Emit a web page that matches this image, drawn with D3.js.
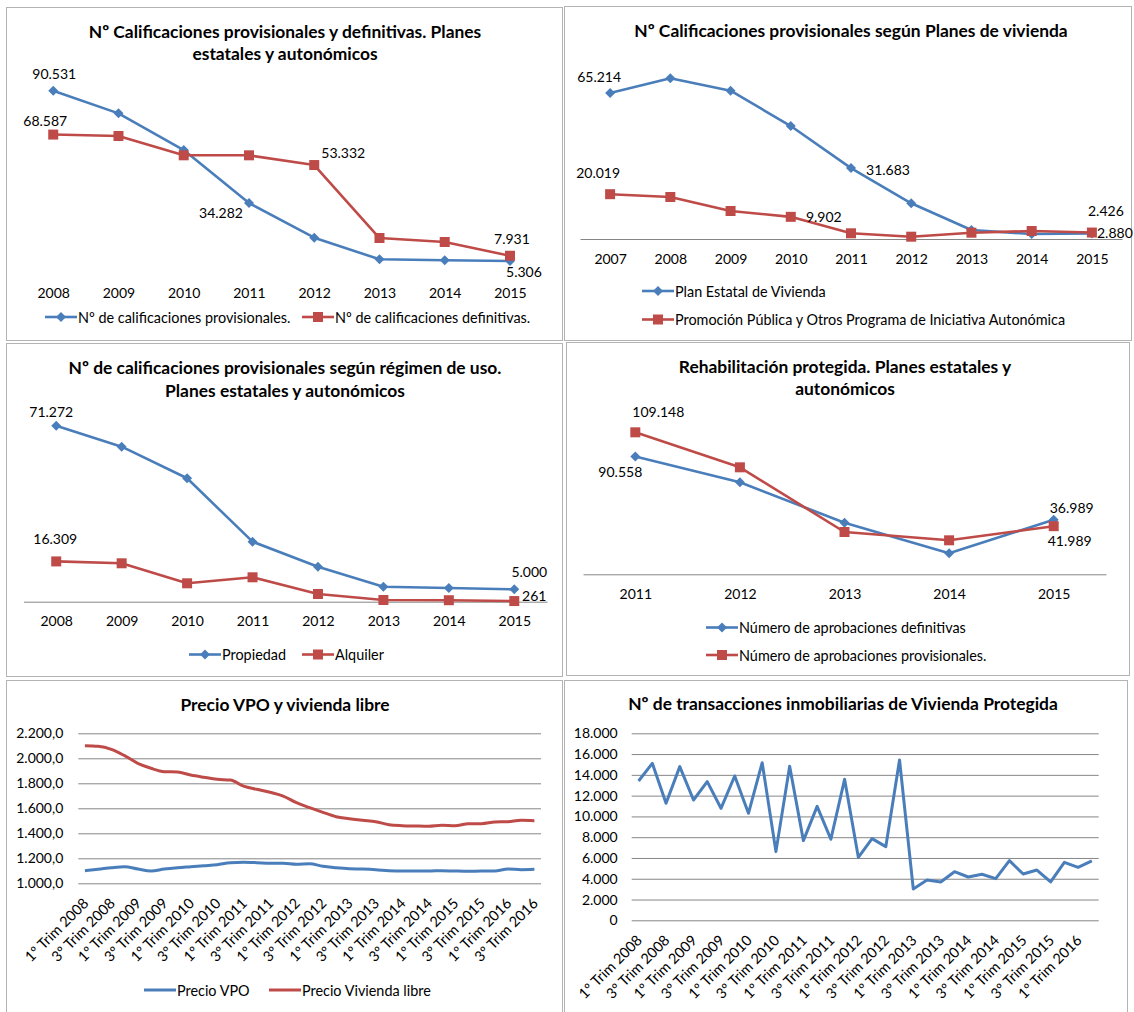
<!DOCTYPE html>
<html>
<head>
<meta charset="utf-8">
<script src="https://cdn.jsdelivr.net/npm/d3@7/dist/d3.min.js"></script>
<style>
  body { margin: 0; background: #fff; }
  svg { display: block; font-family: Lato, 'Open Sans', sans-serif; }
</style>
</head>
<body>
<div id="chart"></div>
<script>
// ---- data ----
var years1 = ['2008', '2009', '2010', '2011', '2012', '2013', '2014', '2015']
var calProvisionales = [90531, 79200, 60850, 34282, 16960, 6155, 5655, 5306]
var calDefinitivas = [68587, 67860, 58200, 58200, 53332, 16810, 14810, 7931]

var years2 = ['2007', '2008', '2009', '2010', '2011', '2012', '2013', '2014', '2015']
var planEstatal = [65214, 71780, 66240, 50470, 31683, 15950, 4020, 2230, 2426]
var promocionPublica = [20019, 18760, 12500, 9902, 2550, 1030, 2810, 3570, 2880]

var years3 = ['2008', '2009', '2010', '2011', '2012', '2013', '2014', '2015']
var propiedad = [71272, 62770, 49970, 24300, 14170, 6070, 5550, 5000]
var alquiler = [16309, 15550, 7450, 9880, 3120, 690, 600, 261]

var years4 = ['2011', '2012', '2013', '2014', '2015']
var aprobDefinitivas = [90558, 70710, 39660, 16140, 41989]
var aprobProvisionales = [109148, 82240, 32510, 26130, 36989]

var trimestres = [
  '1º Trim 2008', '2º Trim 2008', '3º Trim 2008', '4º Trim 2008',
  '1º Trim 2009', '2º Trim 2009', '3º Trim 2009', '4º Trim 2009',
  '1º Trim 2010', '2º Trim 2010', '3º Trim 2010', '4º Trim 2010',
  '1º Trim 2011', '2º Trim 2011', '3º Trim 2011', '4º Trim 2011',
  '1º Trim 2012', '2º Trim 2012', '3º Trim 2012', '4º Trim 2012',
  '1º Trim 2013', '2º Trim 2013', '3º Trim 2013', '4º Trim 2013',
  '1º Trim 2014', '2º Trim 2014', '3º Trim 2014', '4º Trim 2014',
  '1º Trim 2015', '2º Trim 2015', '3º Trim 2015', '4º Trim 2015',
  '1º Trim 2016', '2º Trim 2016', '3º Trim 2016'
]
var precioVPO = [1101, 1112, 1125, 1133, 1114, 1098, 1114, 1125, 1133, 1141, 1149, 1165, 1168, 1165, 1160, 1160, 1152, 1157,
  1136, 1125, 1117, 1114, 1109, 1101, 1098, 1098, 1098, 1101, 1098, 1096, 1098, 1098, 1114, 1109, 1112]
var precioLibre = [2101, 2096, 2072, 2021, 1960, 1920, 1893, 1890, 1866, 1848, 1832, 1826, 1778, 1752, 1728, 1698, 1645, 1605,
  1568, 1533, 1517, 1504, 1493, 1469, 1461, 1458, 1456, 1464, 1461, 1477, 1477, 1490, 1493, 1504, 1501]
var transacciones = [13410, 15110, 11260, 14790, 11580, 13350, 10780, 13890, 10300, 15170, 6610, 14820, 7670, 10970, 7800, 13570, 6060,
  7860, 7090, 15430, 3020, 3880, 3690, 4680, 4170, 4430, 4010, 5740, 4460, 4840, 3690, 5580, 5100, 5710]

var ticks5 = [1000, 1200, 1400, 1600, 1800, 2000, 2200]
var ticks6 = [0, 2000, 4000, 6000, 8000, 10000, 12000, 14000, 16000, 18000]

// ---- setup ----
var BLUE = '#4a7ebb'
var RED = '#be4b48'
var AXIS = '#868686'

var locale = d3.formatLocale({ decimal: ',', thousands: '.', grouping: [3], currency: ['', ''] })
var fmtInt = locale.format(',d')
var fmtDec = locale.format(',.1f')

var svg = d3.select('#chart')
  .append('svg')
  .attr('width', 1134)
  .attr('height', 1012)

var diamond = d3.symbol().type(d3.symbolSquare).size(50)
var square = d3.symbol().type(d3.symbolSquare).size(100)

function panel (box, title, titleX, titleY) {
  var g = svg.append('g')
  g.append('rect')
    .attr('x', box[0] + 0.5)
    .attr('y', box[1] + 0.5)
    .attr('width', box[2])
    .attr('height', box[3])
    .attr('fill', '#fff')
    .attr('stroke', '#b3b3b3')
  title.forEach(function (t, i) {
    g.append('text')
      .attr('x', titleX)
      .attr('y', titleY + i * 22.5)
      .attr('text-anchor', 'middle')
      .attr('dominant-baseline', 'central')
      .attr('font-size', '17.4px')
      .attr('font-weight', 'bold')
      .attr('fill', '#000')
      .text(t)
  })
  return g
}

function categoryChart (cfg) {
  var g = panel(cfg.box, cfg.title, cfg.titleX, cfg.titleY)

  var x = d3.scalePoint().domain(cfg.cats).range(cfg.xRange).padding(0.5)
  var y = d3.scaleLinear().domain(cfg.yDomain).range(cfg.yRange)

  var axis = g.append('g')
    .attr('transform', 'translate(0,' + y(0) + ')')
    .call(d3.axisBottom(x).tickSize(0).tickPadding(cfg.tickPad))
  axis.select('.domain').attr('stroke', cfg.showDomain ? AXIS : 'none').attr('stroke-width', 1)
  axis.selectAll('text')
    .attr('font-size', '14px')
    .attr('font-family', 'Lato, sans-serif')
    .attr('fill', '#000')

  cfg.series.forEach(function (s) {
    var line = d3.line()
      .x(function (d, i) { return x(cfg.cats[i]) })
      .y(function (d) { return y(d) })
    g.append('path')
      .datum(s.values)
      .attr('d', line)
      .attr('fill', 'none')
      .attr('stroke', s.color)
      .attr('stroke-width', 2.6)
      .attr('stroke-linejoin', 'round')

    g.selectAll(null)
      .data(s.values)
      .enter()
      .append('path')
      .attr('d', s.marker === 'diamond' ? diamond : square)
      .attr('fill', s.color)
      .attr('transform', function (d, i) {
        return 'translate(' + x(cfg.cats[i]) + ',' + y(d) + ')' + (s.marker === 'diamond' ? ' rotate(45)' : '')
      })

    s.labels.forEach(function (l) {
      var v = s.values[l[0]]
      g.append('text')
        .attr('x', x(cfg.cats[l[0]]) + l[1])
        .attr('y', y(v) + l[2])
        .attr('text-anchor', 'middle')
        .attr('dominant-baseline', 'central')
        .attr('font-size', '14px')
        .attr('fill', '#000')
        .text(fmtInt(v))
    })

    var lg = g.append('g').attr('transform', 'translate(' + s.legend[0] + ',' + s.legend[1] + ')')
    lg.append('line').attr('x1', 0).attr('x2', 32).attr('stroke', s.color).attr('stroke-width', 2.6)
    lg.append('path')
      .attr('d', s.marker === 'diamond' ? diamond : square)
      .attr('fill', s.color)
      .attr('transform', 'translate(16,0)' + (s.marker === 'diamond' ? ' rotate(45)' : ''))
    lg.append('text')
      .attr('x', 33)
      .attr('dominant-baseline', 'central')
      .attr('font-size', '14.4px')
      .attr('fill', '#000')
      .text(s.name)
  })
}

// Panel 1
categoryChart({
  box: [6, 7, 556, 333],
  title: ['Nº  Calificaciones provisionales y definitivas. Planes', 'estatales y autonómicos'],
  titleX: 285, titleY: 31,
  cats: years1,
  xRange: [20.6, 542.6],
  yDomain: [0, 100000], yRange: [271.6, 71.8],
  tickPad: 16, showDomain: false,
  series: [
    { name: 'Nº de calificaciones provisionales.', values: calProvisionales, color: BLUE, marker: 'diamond',
      labels: [[0, 1, -17], [3, -28, 9], [7, 14, 11]], legend: [45, 317] },
    { name: 'Nº de calificaciones definitivas.', values: calDefinitivas, color: RED, marker: 'square',
      labels: [[0, -8, -14.5], [4, 29, -13], [7, 2, -17]], legend: [302, 317] }
  ]
})

// Panel 2
categoryChart({
  box: [564, 6, 567, 334],
  title: ['Nº Calificaciones provisionales  según Planes de vivienda'],
  titleX: 851, titleY: 30,
  cats: years2,
  xRange: [580, 1122],
  yDomain: [0, 70000], yRange: [239, 82.3],
  tickPad: 15.5, showDomain: true,
  series: [
    { name: 'Plan Estatal de Vivienda', values: planEstatal, color: BLUE, marker: 'diamond',
      labels: [[0, -11, -17], [4, 37, 1], [8, 14, -23]], legend: [642, 291] },
    { name: 'Promoción Pública y Otros Programa de Iniciativa Autonómica', values: promocionPublica, color: RED, marker: 'square',
      labels: [[0, -12, -22], [3, 33, 0], [8, 23, 0]], legend: [642, 319.5] }
  ]
})

// Panel 3
categoryChart({
  box: [6, 343, 556, 333],
  title: ['Nº de calificaciones provisionales según régimen de uso.', 'Planes estatales y autonómicos'],
  titleX: 285, titleY: 367.5,
  cats: years3,
  xRange: [23.5, 547],
  yDomain: [0, 80000], yRange: [601.7, 404.1],
  tickPad: 14.5, showDomain: true,
  series: [
    { name: 'Propiedad', values: propiedad, color: BLUE, marker: 'diamond',
      labels: [[0, -5, -14], [7, 15, -18]], legend: [189, 654.5] },
    { name: 'Alquiler', values: alquiler, color: RED, marker: 'square',
      labels: [[0, -1, -23], [7, 20, -6]], legend: [302, 654.5] }
  ]
})

// Panel 4
categoryChart({
  box: [566, 342, 563, 333],
  title: ['Rehabilitación protegida. Planes estatales y', 'autonómicos'],
  titleX: 845, titleY: 366,
  cats: years4,
  xRange: [583, 1106],
  yDomain: [0, 120000], yRange: [574.3, 418.2],
  tickPad: 15, showDomain: true,
  series: [
    { name: 'Número de aprobaciones definitivas', values: aprobDefinitivas, color: BLUE, marker: 'diamond',
      labels: [[0, -15, 15], [4, 16, 21]], legend: [706, 627.5] },
    { name: 'Número de aprobaciones provisionales.', values: aprobProvisionales, color: RED, marker: 'square',
      labels: [[0, 23, -21], [4, 18, -19]], legend: [706, 655] }
  ]
})

// quarterly panels
function quarterChart (cfg) {
  var g = panel(cfg.box, cfg.title, cfg.titleX, cfg.titleY)
  var x = d3.scalePoint().domain(cfg.cats).range(cfg.xRange).padding(0.5)
  var y = d3.scaleLinear().domain(cfg.yDomain).range(cfg.yRange)

  var yAxis = g.append('g')
    .attr('transform', 'translate(' + cfg.xRange[0] + ',0)')
    .call(d3.axisLeft(y).tickValues(cfg.ticks).tickFormat(cfg.fmt)
      .tickSize(-(cfg.xRange[1] - cfg.xRange[0])).tickPadding(cfg.yPad))
  yAxis.select('.domain').remove()
  yAxis.selectAll('line').attr('stroke', AXIS).attr('stroke-width', 1)
  yAxis.selectAll('text').attr('font-size', '14px').attr('font-family', 'Lato, sans-serif').attr('fill', '#000')

  var xAxis = g.append('g')
    .attr('transform', 'translate(0,' + cfg.yRange[0] + ')')
    .call(d3.axisBottom(x).tickSize(0)
      .tickValues(cfg.cats.filter(function (d, i) { return i % 2 === 0 })))
  xAxis.select('.domain').remove()
  xAxis.selectAll('text')
    .attr('font-size', '14.5px')
    .attr('font-family', 'Lato, sans-serif')
    .attr('fill', '#000')
    .attr('text-anchor', 'end')
    .attr('dy', null)
    .attr('y', 0)
    .attr('transform', 'translate(4,21) rotate(-45)')

  cfg.series.forEach(function (s) {
    var line = d3.line()
      .x(function (d, i) { return x(cfg.cats[i]) })
      .y(function (d) { return y(d) })
      .curve(cfg.curve)
    g.append('path')
      .datum(s.values)
      .attr('d', line)
      .attr('fill', 'none')
      .attr('stroke', s.color)
      .attr('stroke-width', 3)
      .attr('stroke-linejoin', 'round')
    if (s.legend) {
      var lg = g.append('g').attr('transform', 'translate(' + s.legend[0] + ',' + s.legend[1] + ')')
      lg.append('line').attr('x1', 0).attr('x2', 32).attr('stroke', s.color).attr('stroke-width', 3)
      lg.append('text')
        .attr('x', 33)
        .attr('dominant-baseline', 'central')
        .attr('font-size', '14.4px')
        .attr('fill', '#000')
        .text(s.name)
    }
  })
}

quarterChart({
  box: [6, 680, 556, 340],
  title: ['Precio VPO y vivienda libre'],
  titleX: 285, titleY: 704,
  cats: trimestres,
  xRange: [78.3, 541], yDomain: [1000, 2200], yRange: [883.3, 733.3],
  ticks: ticks5, fmt: fmtDec, yPad: 15,
  curve: d3.curveMonotoneX,
  series: [
    { name: 'Precio VPO', values: precioVPO, color: BLUE, legend: [144, 990] },
    { name: 'Precio Vivienda libre', values: precioLibre, color: RED, legend: [269, 990] }
  ]
})

quarterChart({
  box: [564, 680, 563, 340],
  title: ['Nº de transacciones inmobiliarias de Vivienda Protegida'],
  titleX: 843, titleY: 703,
  cats: trimestres.slice(0, transacciones.length),
  xRange: [631.7, 1098.7], yDomain: [0, 18000], yRange: [920.3, 733.3],
  ticks: ticks6, fmt: fmtInt, yPad: 14,
  curve: d3.curveLinear,
  series: [
    { name: 'Nº de transacciones', values: transacciones, color: BLUE }
  ]
})
</script>
</body>
</html>
